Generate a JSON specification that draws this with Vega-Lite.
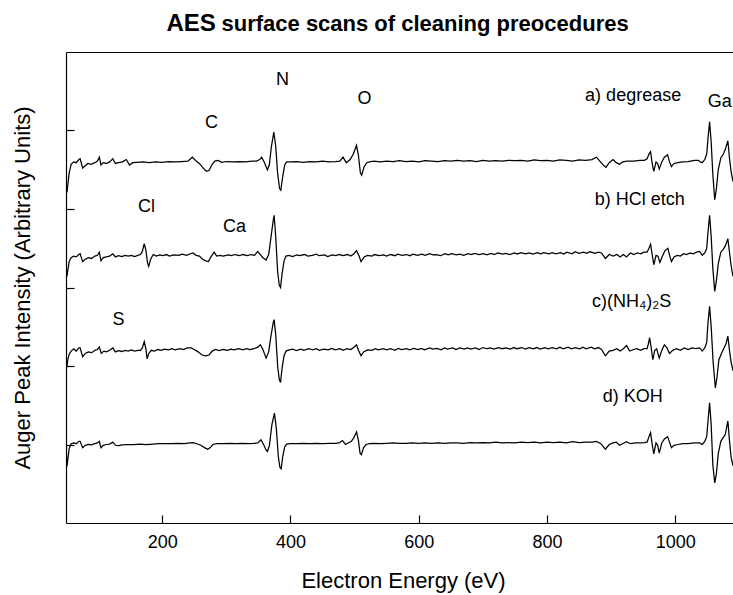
{
"$schema": "https://vega.github.io/schema/vega-lite/v6.json",
"width": 667, "height": 471,
"autosize": "none",
"padding": {"left": 66, "top": 52, "right": 0, "bottom": 72},
"background": "white",
"config": {"view": {"stroke": null}, "font": "Liberation Sans",
  "axis": {"grid": false, "domainColor": "black", "tickColor": "black", "labelColor": "black", "titleColor": "black", "domainWidth": 1.2, "tickWidth": 1.2}},
"datasets": {
"spectra": [
{"s":"a","eV":50,"y":43.5},{"s":"a","eV":51.5,"y":42.1},{"s":"a","eV":53,"y":43.2},{"s":"a","eV":55,"y":44.6},{"s":"a","eV":58,"y":45.7},{"s":"a","eV":62,"y":46.0},{"s":"a","eV":66,"y":45.9},{"s":"a","eV":70,"y":46.3},{"s":"a","eV":72,"y":46.4},{"s":"a","eV":76,"y":45.2},{"s":"a","eV":80,"y":45.5},{"s":"a","eV":84,"y":45.8},{"s":"a","eV":89,"y":45.7},{"s":"a","eV":95,"y":45.9},{"s":"a","eV":99,"y":46.1},{"s":"a","eV":102,"y":46.6},{"s":"a","eV":104.5,"y":45.6},{"s":"a","eV":108,"y":45.9},{"s":"a","eV":113,"y":45.8},{"s":"a","eV":118,"y":46.0},{"s":"a","eV":123,"y":46.4},{"s":"a","eV":127,"y":45.8},{"s":"a","eV":132,"y":45.9},{"s":"a","eV":138,"y":46.0},{"s":"a","eV":144,"y":46.3},{"s":"a","eV":149,"y":45.6},{"s":"a","eV":154,"y":45.9},{"s":"a","eV":160,"y":45.95},{"s":"a","eV":170,"y":46.0},{"s":"a","eV":180,"y":45.9},{"s":"a","eV":190,"y":46.0},{"s":"a","eV":200,"y":45.95},{"s":"a","eV":210,"y":46.05},{"s":"a","eV":220,"y":46.0},{"s":"a","eV":230,"y":46.05},{"s":"a","eV":240,"y":46.1},{"s":"a","eV":247,"y":46.6},{"s":"a","eV":253,"y":46.1},{"s":"a","eV":258,"y":45.8},{"s":"a","eV":264,"y":45.2},{"s":"a","eV":269,"y":44.8},{"s":"a","eV":273,"y":44.9},{"s":"a","eV":278,"y":45.7},{"s":"a","eV":282,"y":46.1},{"s":"a","eV":287,"y":46.2},{"s":"a","eV":293,"y":45.95},{"s":"a","eV":300,"y":46.05},{"s":"a","eV":310,"y":46.0},{"s":"a","eV":320,"y":46.05},{"s":"a","eV":330,"y":46.0},{"s":"a","eV":340,"y":46.1},{"s":"a","eV":347,"y":46.1},{"s":"a","eV":352,"y":46.3},{"s":"a","eV":355,"y":46.6},{"s":"a","eV":359,"y":46.0},{"s":"a","eV":364,"y":45.0},{"s":"a","eV":367,"y":45.6},{"s":"a","eV":370,"y":47.8},{"s":"a","eV":374,"y":49.8},{"s":"a","eV":377,"y":48.0},{"s":"a","eV":380,"y":44.5},{"s":"a","eV":383,"y":42.6},{"s":"a","eV":385,"y":42.4},{"s":"a","eV":388,"y":44.2},{"s":"a","eV":391,"y":45.6},{"s":"a","eV":394,"y":46.0},{"s":"a","eV":400,"y":46.0},{"s":"a","eV":410,"y":46.05},{"s":"a","eV":420,"y":45.95},{"s":"a","eV":430,"y":46.05},{"s":"a","eV":440,"y":46.0},{"s":"a","eV":450,"y":46.1},{"s":"a","eV":460,"y":46.0},{"s":"a","eV":470,"y":46.05},{"s":"a","eV":477,"y":46.1},{"s":"a","eV":482,"y":46.6},{"s":"a","eV":487,"y":45.9},{"s":"a","eV":493,"y":46.3},{"s":"a","eV":498,"y":47.0},{"s":"a","eV":503,"y":48.1},{"s":"a","eV":506,"y":46.8},{"s":"a","eV":509,"y":44.6},{"s":"a","eV":511,"y":44.3},{"s":"a","eV":515,"y":45.4},{"s":"a","eV":519,"y":45.9},{"s":"a","eV":523,"y":46.0},{"s":"a","eV":530,"y":46.1},{"s":"a","eV":540,"y":46.0},{"s":"a","eV":550,"y":46.1},{"s":"a","eV":560,"y":46.05},{"s":"a","eV":570,"y":46.15},{"s":"a","eV":580,"y":46.05},{"s":"a","eV":590,"y":46.1},{"s":"a","eV":600,"y":46.0},{"s":"a","eV":610,"y":46.15},{"s":"a","eV":620,"y":46.1},{"s":"a","eV":630,"y":46.05},{"s":"a","eV":640,"y":46.15},{"s":"a","eV":650,"y":46.1},{"s":"a","eV":660,"y":46.2},{"s":"a","eV":670,"y":46.1},{"s":"a","eV":680,"y":46.15},{"s":"a","eV":690,"y":46.05},{"s":"a","eV":700,"y":46.2},{"s":"a","eV":710,"y":46.1},{"s":"a","eV":720,"y":46.15},{"s":"a","eV":730,"y":46.1},{"s":"a","eV":740,"y":46.2},{"s":"a","eV":750,"y":46.15},{"s":"a","eV":760,"y":46.2},{"s":"a","eV":770,"y":46.1},{"s":"a","eV":780,"y":46.25},{"s":"a","eV":790,"y":46.15},{"s":"a","eV":800,"y":46.2},{"s":"a","eV":810,"y":46.1},{"s":"a","eV":820,"y":46.25},{"s":"a","eV":830,"y":46.2},{"s":"a","eV":840,"y":46.1},{"s":"a","eV":850,"y":46.25},{"s":"a","eV":860,"y":46.2},{"s":"a","eV":870,"y":46.3},{"s":"a","eV":877,"y":46.6},{"s":"a","eV":884,"y":45.95},{"s":"a","eV":889,"y":45.5},{"s":"a","eV":892,"y":45.3},{"s":"a","eV":897,"y":45.9},{"s":"a","eV":903,"y":46.3},{"s":"a","eV":908,"y":45.9},{"s":"a","eV":913,"y":45.7},{"s":"a","eV":918,"y":46.0},{"s":"a","eV":925,"y":46.1},{"s":"a","eV":935,"y":46.1},{"s":"a","eV":945,"y":46.2},{"s":"a","eV":952,"y":46.2},{"s":"a","eV":956,"y":46.4},{"s":"a","eV":959,"y":47.0},{"s":"a","eV":961.5,"y":47.3},{"s":"a","eV":964,"y":45.8},{"s":"a","eV":966.5,"y":44.8},{"s":"a","eV":970,"y":46.0},{"s":"a","eV":972.5,"y":45.8},{"s":"a","eV":975,"y":45.1},{"s":"a","eV":979,"y":46.0},{"s":"a","eV":983,"y":46.6},{"s":"a","eV":988,"y":46.9},{"s":"a","eV":991,"y":46.0},{"s":"a","eV":994,"y":45.4},{"s":"a","eV":998,"y":45.8},{"s":"a","eV":1004,"y":45.9},{"s":"a","eV":1012,"y":46.0},{"s":"a","eV":1020,"y":46.05},{"s":"a","eV":1030,"y":46.2},{"s":"a","eV":1036,"y":46.2},{"s":"a","eV":1039,"y":46.0},{"s":"a","eV":1042,"y":45.9},{"s":"a","eV":1046,"y":46.3},{"s":"a","eV":1049,"y":47.0},{"s":"a","eV":1051,"y":49.0},{"s":"a","eV":1053.5,"y":51.1},{"s":"a","eV":1056,"y":48.5},{"s":"a","eV":1058.5,"y":44.5},{"s":"a","eV":1061.5,"y":41.2},{"s":"a","eV":1064,"y":42.5},{"s":"a","eV":1067,"y":45.0},{"s":"a","eV":1071,"y":46.5},{"s":"a","eV":1075,"y":47.0},{"s":"a","eV":1078,"y":47.6},{"s":"a","eV":1082,"y":48.7},{"s":"a","eV":1084.5,"y":46.5},{"s":"a","eV":1087,"y":44.8},{"s":"a","eV":1090,"y":43.5},
{"s":"b","eV":50,"y":32.5},{"s":"b","eV":51.5,"y":31.4},{"s":"b","eV":53,"y":32.3},{"s":"b","eV":55,"y":33.3},{"s":"b","eV":58,"y":33.8},{"s":"b","eV":62,"y":34.0},{"s":"b","eV":66,"y":33.9},{"s":"b","eV":70,"y":34.2},{"s":"b","eV":72,"y":34.3},{"s":"b","eV":76,"y":33.3},{"s":"b","eV":80,"y":33.6},{"s":"b","eV":85,"y":33.8},{"s":"b","eV":90,"y":33.7},{"s":"b","eV":95,"y":34.0},{"s":"b","eV":99,"y":34.1},{"s":"b","eV":102,"y":34.5},{"s":"b","eV":104.5,"y":33.4},{"s":"b","eV":108,"y":33.8},{"s":"b","eV":113,"y":33.9},{"s":"b","eV":118,"y":34.0},{"s":"b","eV":123,"y":34.3},{"s":"b","eV":127,"y":33.9},{"s":"b","eV":132,"y":34.05},{"s":"b","eV":137,"y":33.95},{"s":"b","eV":142,"y":34.1},{"s":"b","eV":147,"y":34.0},{"s":"b","eV":152,"y":34.1},{"s":"b","eV":157,"y":33.95},{"s":"b","eV":162,"y":34.1},{"s":"b","eV":166,"y":34.2},{"s":"b","eV":169,"y":34.6},{"s":"b","eV":172,"y":35.6},{"s":"b","eV":174.5,"y":34.8},{"s":"b","eV":177,"y":33.2},{"s":"b","eV":179,"y":32.7},{"s":"b","eV":182,"y":33.6},{"s":"b","eV":186,"y":34.2},{"s":"b","eV":191,"y":34.0},{"s":"b","eV":196,"y":34.15},{"s":"b","eV":201,"y":34.05},{"s":"b","eV":207,"y":34.2},{"s":"b","eV":211,"y":34.0},{"s":"b","eV":218,"y":34.15},{"s":"b","eV":226,"y":34.1},{"s":"b","eV":231,"y":34.25},{"s":"b","eV":238,"y":34.1},{"s":"b","eV":244,"y":34.3},{"s":"b","eV":248,"y":34.4},{"s":"b","eV":253,"y":34.1},{"s":"b","eV":258,"y":34.0},{"s":"b","eV":263,"y":33.6},{"s":"b","eV":268,"y":33.4},{"s":"b","eV":272,"y":33.3},{"s":"b","eV":276,"y":33.9},{"s":"b","eV":281,"y":34.5},{"s":"b","eV":285,"y":34.0},{"s":"b","eV":290,"y":34.1},{"s":"b","eV":295,"y":34.0},{"s":"b","eV":303,"y":34.15},{"s":"b","eV":308,"y":34.05},{"s":"b","eV":313,"y":34.2},{"s":"b","eV":321,"y":34.05},{"s":"b","eV":325,"y":34.2},{"s":"b","eV":333,"y":34.05},{"s":"b","eV":338,"y":34.2},{"s":"b","eV":344,"y":34.1},{"s":"b","eV":349,"y":34.6},{"s":"b","eV":353,"y":34.2},{"s":"b","eV":357,"y":33.8},{"s":"b","eV":362,"y":33.5},{"s":"b","eV":366,"y":34.2},{"s":"b","eV":369,"y":36.0},{"s":"b","eV":373,"y":38.5},{"s":"b","eV":374.5,"y":39.2},{"s":"b","eV":377,"y":36.5},{"s":"b","eV":380,"y":32.0},{"s":"b","eV":382.5,"y":30.3},{"s":"b","eV":384.5,"y":30.0},{"s":"b","eV":387,"y":31.8},{"s":"b","eV":390,"y":33.4},{"s":"b","eV":393,"y":34.0},{"s":"b","eV":398,"y":34.1},{"s":"b","eV":403,"y":33.95},{"s":"b","eV":410,"y":34.15},{"s":"b","eV":414,"y":34.05},{"s":"b","eV":422,"y":34.2},{"s":"b","eV":427,"y":34.0},{"s":"b","eV":434,"y":34.1},{"s":"b","eV":440,"y":34.25},{"s":"b","eV":445,"y":34.05},{"s":"b","eV":453,"y":34.15},{"s":"b","eV":458,"y":33.95},{"s":"b","eV":465,"y":34.15},{"s":"b","eV":471,"y":34.05},{"s":"b","eV":476,"y":34.2},{"s":"b","eV":482,"y":34.05},{"s":"b","eV":489,"y":34.2},{"s":"b","eV":494,"y":34.0},{"s":"b","eV":499,"y":34.3},{"s":"b","eV":503,"y":34.7},{"s":"b","eV":507,"y":34.0},{"s":"b","eV":510,"y":33.3},{"s":"b","eV":515,"y":33.9},{"s":"b","eV":520,"y":34.1},{"s":"b","eV":527,"y":34.0},{"s":"b","eV":531,"y":34.2},{"s":"b","eV":538,"y":34.05},{"s":"b","eV":545,"y":34.15},{"s":"b","eV":550,"y":34.0},{"s":"b","eV":556,"y":34.2},{"s":"b","eV":563,"y":34.05},{"s":"b","eV":567,"y":34.25},{"s":"b","eV":574,"y":34.1},{"s":"b","eV":581,"y":34.2},{"s":"b","eV":586,"y":34.05},{"s":"b","eV":591,"y":34.25},{"s":"b","eV":598,"y":34.1},{"s":"b","eV":605,"y":34.25},{"s":"b","eV":610,"y":34.1},{"s":"b","eV":617,"y":34.3},{"s":"b","eV":622,"y":34.15},{"s":"b","eV":627,"y":34.2},{"s":"b","eV":634,"y":34.05},{"s":"b","eV":641,"y":34.3},{"s":"b","eV":646,"y":34.15},{"s":"b","eV":651,"y":34.3},{"s":"b","eV":659,"y":34.15},{"s":"b","eV":664,"y":34.25},{"s":"b","eV":670,"y":34.1},{"s":"b","eV":677,"y":34.3},{"s":"b","eV":682,"y":34.2},{"s":"b","eV":687,"y":34.35},{"s":"b","eV":694,"y":34.2},{"s":"b","eV":701,"y":34.3},{"s":"b","eV":706,"y":34.15},{"s":"b","eV":713,"y":34.35},{"s":"b","eV":718,"y":34.2},{"s":"b","eV":723,"y":34.4},{"s":"b","eV":731,"y":34.25},{"s":"b","eV":736,"y":34.35},{"s":"b","eV":742,"y":34.2},{"s":"b","eV":749,"y":34.4},{"s":"b","eV":754,"y":34.25},{"s":"b","eV":759,"y":34.45},{"s":"b","eV":767,"y":34.3},{"s":"b","eV":772,"y":34.4},{"s":"b","eV":778,"y":34.25},{"s":"b","eV":785,"y":34.45},{"s":"b","eV":790,"y":34.3},{"s":"b","eV":795,"y":34.45},{"s":"b","eV":803,"y":34.3},{"s":"b","eV":808,"y":34.45},{"s":"b","eV":814,"y":34.3},{"s":"b","eV":821,"y":34.45},{"s":"b","eV":826,"y":34.25},{"s":"b","eV":831,"y":34.5},{"s":"b","eV":839,"y":34.3},{"s":"b","eV":844,"y":34.55},{"s":"b","eV":850,"y":34.35},{"s":"b","eV":857,"y":34.5},{"s":"b","eV":862,"y":34.35},{"s":"b","eV":867,"y":34.55},{"s":"b","eV":875,"y":34.35},{"s":"b","eV":880,"y":34.5},{"s":"b","eV":885,"y":34.4},{"s":"b","eV":891,"y":33.7},{"s":"b","eV":897,"y":34.2},{"s":"b","eV":903,"y":34.0},{"s":"b","eV":909,"y":34.2},{"s":"b","eV":914,"y":33.9},{"s":"b","eV":919,"y":34.2},{"s":"b","eV":924,"y":33.9},{"s":"b","eV":930,"y":34.4},{"s":"b","eV":935,"y":34.2},{"s":"b","eV":941,"y":34.4},{"s":"b","eV":946,"y":34.3},{"s":"b","eV":951,"y":34.5},{"s":"b","eV":956,"y":34.5},{"s":"b","eV":959,"y":35.0},{"s":"b","eV":961.5,"y":35.5},{"s":"b","eV":964,"y":34.2},{"s":"b","eV":966.5,"y":32.9},{"s":"b","eV":970,"y":34.1},{"s":"b","eV":973,"y":34.0},{"s":"b","eV":976,"y":33.2},{"s":"b","eV":980,"y":34.0},{"s":"b","eV":984,"y":34.7},{"s":"b","eV":988.5,"y":35.0},{"s":"b","eV":991.5,"y":34.0},{"s":"b","eV":994,"y":33.3},{"s":"b","eV":998,"y":33.9},{"s":"b","eV":1003,"y":34.1},{"s":"b","eV":1008,"y":34.0},{"s":"b","eV":1013,"y":34.3},{"s":"b","eV":1018,"y":34.2},{"s":"b","eV":1023,"y":34.4},{"s":"b","eV":1028,"y":34.3},{"s":"b","eV":1033,"y":34.5},{"s":"b","eV":1038,"y":34.6},{"s":"b","eV":1042,"y":34.1},{"s":"b","eV":1046,"y":34.4},{"s":"b","eV":1049,"y":35.0},{"s":"b","eV":1051,"y":37.0},{"s":"b","eV":1053.5,"y":39.2},{"s":"b","eV":1056,"y":36.5},{"s":"b","eV":1058.5,"y":32.5},{"s":"b","eV":1061.5,"y":29.5},{"s":"b","eV":1064,"y":30.8},{"s":"b","eV":1067,"y":33.0},{"s":"b","eV":1071,"y":34.5},{"s":"b","eV":1075,"y":34.9},{"s":"b","eV":1078,"y":35.3},{"s":"b","eV":1082,"y":36.2},{"s":"b","eV":1084.5,"y":34.5},{"s":"b","eV":1087,"y":32.8},{"s":"b","eV":1090,"y":31.4},
{"s":"c","eV":50,"y":19.5},{"s":"c","eV":51.5,"y":20.0},{"s":"c","eV":53,"y":20.9},{"s":"c","eV":55,"y":21.5},{"s":"c","eV":58,"y":21.9},{"s":"c","eV":62,"y":22.2},{"s":"c","eV":66,"y":21.9},{"s":"c","eV":70,"y":22.3},{"s":"c","eV":72,"y":22.3},{"s":"c","eV":76,"y":21.2},{"s":"c","eV":80,"y":21.6},{"s":"c","eV":85,"y":21.8},{"s":"c","eV":90,"y":21.7},{"s":"c","eV":95,"y":22.0},{"s":"c","eV":99,"y":22.1},{"s":"c","eV":102,"y":22.4},{"s":"c","eV":105,"y":21.6},{"s":"c","eV":109,"y":21.9},{"s":"c","eV":113,"y":21.8},{"s":"c","eV":118,"y":22.0},{"s":"c","eV":123,"y":22.3},{"s":"c","eV":127,"y":21.8},{"s":"c","eV":132,"y":21.95},{"s":"c","eV":137,"y":21.85},{"s":"c","eV":142,"y":22.0},{"s":"c","eV":147,"y":21.9},{"s":"c","eV":152,"y":22.05},{"s":"c","eV":157,"y":21.9},{"s":"c","eV":162,"y":22.0},{"s":"c","eV":166,"y":22.0},{"s":"c","eV":169,"y":22.3},{"s":"c","eV":172,"y":23.1},{"s":"c","eV":174.5,"y":22.2},{"s":"c","eV":176.5,"y":20.9},{"s":"c","eV":179,"y":21.6},{"s":"c","eV":183,"y":22.0},{"s":"c","eV":188,"y":21.9},{"s":"c","eV":193,"y":22.1},{"s":"c","eV":199,"y":22.0},{"s":"c","eV":203,"y":22.15},{"s":"c","eV":210,"y":22.05},{"s":"c","eV":215,"y":22.2},{"s":"c","eV":220,"y":22.05},{"s":"c","eV":228,"y":22.2},{"s":"c","eV":233,"y":22.1},{"s":"c","eV":239,"y":22.3},{"s":"c","eV":245,"y":22.3},{"s":"c","eV":250,"y":22.1},{"s":"c","eV":256,"y":21.8},{"s":"c","eV":262,"y":21.4},{"s":"c","eV":268,"y":21.3},{"s":"c","eV":273,"y":21.4},{"s":"c","eV":278,"y":21.9},{"s":"c","eV":283,"y":22.1},{"s":"c","eV":289,"y":21.95},{"s":"c","eV":295,"y":22.1},{"s":"c","eV":302,"y":22.0},{"s":"c","eV":307,"y":22.15},{"s":"c","eV":312,"y":22.05},{"s":"c","eV":319,"y":22.2},{"s":"c","eV":326,"y":22.05},{"s":"c","eV":331,"y":22.2},{"s":"c","eV":337,"y":22.1},{"s":"c","eV":343,"y":22.2},{"s":"c","eV":349,"y":22.4},{"s":"c","eV":353,"y":22.7},{"s":"c","eV":357,"y":22.1},{"s":"c","eV":362,"y":21.0},{"s":"c","eV":366,"y":21.8},{"s":"c","eV":369,"y":23.5},{"s":"c","eV":373,"y":25.5},{"s":"c","eV":374.5,"y":25.9},{"s":"c","eV":377,"y":24.0},{"s":"c","eV":380,"y":20.0},{"s":"c","eV":382.5,"y":18.3},{"s":"c","eV":384.5,"y":17.9},{"s":"c","eV":387,"y":19.8},{"s":"c","eV":390,"y":21.3},{"s":"c","eV":393,"y":21.9},{"s":"c","eV":398,"y":22.05},{"s":"c","eV":404,"y":22.15},{"s":"c","eV":409,"y":21.95},{"s":"c","eV":416,"y":22.15},{"s":"c","eV":421,"y":22.0},{"s":"c","eV":428,"y":22.2},{"s":"c","eV":435,"y":22.05},{"s":"c","eV":440,"y":22.2},{"s":"c","eV":445,"y":22.0},{"s":"c","eV":452,"y":22.15},{"s":"c","eV":459,"y":22.05},{"s":"c","eV":464,"y":22.25},{"s":"c","eV":470,"y":22.05},{"s":"c","eV":477,"y":22.2},{"s":"c","eV":482,"y":22.0},{"s":"c","eV":488,"y":22.2},{"s":"c","eV":494,"y":22.1},{"s":"c","eV":499,"y":22.4},{"s":"c","eV":503,"y":22.7},{"s":"c","eV":506,"y":22.0},{"s":"c","eV":510,"y":21.3},{"s":"c","eV":514,"y":21.8},{"s":"c","eV":520,"y":22.05},{"s":"c","eV":527,"y":22.0},{"s":"c","eV":532,"y":22.2},{"s":"c","eV":537,"y":22.05},{"s":"c","eV":545,"y":22.2},{"s":"c","eV":550,"y":22.05},{"s":"c","eV":556,"y":22.2},{"s":"c","eV":563,"y":22.0},{"s":"c","eV":568,"y":22.25},{"s":"c","eV":573,"y":22.1},{"s":"c","eV":581,"y":22.2},{"s":"c","eV":586,"y":22.05},{"s":"c","eV":592,"y":22.25},{"s":"c","eV":599,"y":22.1},{"s":"c","eV":604,"y":22.25},{"s":"c","eV":609,"y":22.05},{"s":"c","eV":617,"y":22.3},{"s":"c","eV":622,"y":22.15},{"s":"c","eV":628,"y":22.25},{"s":"c","eV":635,"y":22.05},{"s":"c","eV":640,"y":22.3},{"s":"c","eV":645,"y":22.15},{"s":"c","eV":653,"y":22.3},{"s":"c","eV":658,"y":22.1},{"s":"c","eV":664,"y":22.3},{"s":"c","eV":671,"y":22.15},{"s":"c","eV":676,"y":22.3},{"s":"c","eV":681,"y":22.15},{"s":"c","eV":689,"y":22.3},{"s":"c","eV":694,"y":22.1},{"s":"c","eV":700,"y":22.35},{"s":"c","eV":707,"y":22.2},{"s":"c","eV":712,"y":22.3},{"s":"c","eV":717,"y":22.15},{"s":"c","eV":725,"y":22.35},{"s":"c","eV":730,"y":22.2},{"s":"c","eV":736,"y":22.3},{"s":"c","eV":743,"y":22.15},{"s":"c","eV":748,"y":22.35},{"s":"c","eV":753,"y":22.2},{"s":"c","eV":761,"y":22.35},{"s":"c","eV":766,"y":22.15},{"s":"c","eV":772,"y":22.35},{"s":"c","eV":779,"y":22.2},{"s":"c","eV":784,"y":22.35},{"s":"c","eV":789,"y":22.15},{"s":"c","eV":797,"y":22.35},{"s":"c","eV":802,"y":22.2},{"s":"c","eV":808,"y":22.35},{"s":"c","eV":815,"y":22.2},{"s":"c","eV":820,"y":22.4},{"s":"c","eV":825,"y":22.2},{"s":"c","eV":833,"y":22.4},{"s":"c","eV":838,"y":22.2},{"s":"c","eV":844,"y":22.35},{"s":"c","eV":851,"y":22.2},{"s":"c","eV":856,"y":22.4},{"s":"c","eV":861,"y":22.2},{"s":"c","eV":869,"y":22.4},{"s":"c","eV":874,"y":22.2},{"s":"c","eV":880,"y":22.35},{"s":"c","eV":885,"y":22.1},{"s":"c","eV":891,"y":21.3},{"s":"c","eV":897,"y":21.9},{"s":"c","eV":903,"y":22.0},{"s":"c","eV":909,"y":22.2},{"s":"c","eV":914,"y":21.9},{"s":"c","eV":919,"y":22.2},{"s":"c","eV":924,"y":22.6},{"s":"c","eV":929,"y":21.9},{"s":"c","eV":935,"y":22.1},{"s":"c","eV":940,"y":22.2},{"s":"c","eV":946,"y":22.0},{"s":"c","eV":951,"y":22.2},{"s":"c","eV":956,"y":22.2},{"s":"c","eV":958,"y":22.8},{"s":"c","eV":960,"y":23.6},{"s":"c","eV":962.5,"y":22.3},{"s":"c","eV":965,"y":20.8},{"s":"c","eV":968,"y":22.0},{"s":"c","eV":971,"y":22.2},{"s":"c","eV":975,"y":21.0},{"s":"c","eV":979,"y":22.0},{"s":"c","eV":983,"y":22.7},{"s":"c","eV":987,"y":22.3},{"s":"c","eV":991,"y":21.6},{"s":"c","eV":996,"y":22.0},{"s":"c","eV":1002,"y":22.2},{"s":"c","eV":1008,"y":22.0},{"s":"c","eV":1014,"y":22.3},{"s":"c","eV":1020,"y":22.1},{"s":"c","eV":1026,"y":22.3},{"s":"c","eV":1032,"y":22.2},{"s":"c","eV":1038,"y":22.3},{"s":"c","eV":1042,"y":21.9},{"s":"c","eV":1046,"y":22.3},{"s":"c","eV":1049,"y":23.0},{"s":"c","eV":1051,"y":25.5},{"s":"c","eV":1053.5,"y":27.6},{"s":"c","eV":1056,"y":25.0},{"s":"c","eV":1059,"y":20.5},{"s":"c","eV":1062.5,"y":17.2},{"s":"c","eV":1065,"y":18.5},{"s":"c","eV":1068,"y":20.8},{"s":"c","eV":1072,"y":21.6},{"s":"c","eV":1076,"y":22.3},{"s":"c","eV":1079,"y":22.8},{"s":"c","eV":1082,"y":23.8},{"s":"c","eV":1084.5,"y":22.0},{"s":"c","eV":1087,"y":20.5},{"s":"c","eV":1090,"y":19.4},
{"s":"d","eV":50,"y":10.0},{"s":"d","eV":51.5,"y":7.2},{"s":"d","eV":53,"y":8.2},{"s":"d","eV":55,"y":9.5},{"s":"d","eV":58,"y":10.1},{"s":"d","eV":62,"y":10.2},{"s":"d","eV":66,"y":10.1},{"s":"d","eV":70,"y":10.4},{"s":"d","eV":72,"y":10.4},{"s":"d","eV":76,"y":9.6},{"s":"d","eV":80,"y":9.9},{"s":"d","eV":85,"y":10.0},{"s":"d","eV":90,"y":9.95},{"s":"d","eV":95,"y":10.1},{"s":"d","eV":99,"y":10.2},{"s":"d","eV":102,"y":10.4},{"s":"d","eV":104.5,"y":9.6},{"s":"d","eV":108,"y":9.9},{"s":"d","eV":113,"y":10.0},{"s":"d","eV":118,"y":10.05},{"s":"d","eV":123,"y":10.3},{"s":"d","eV":127,"y":9.9},{"s":"d","eV":132,"y":9.85},{"s":"d","eV":138,"y":9.95},{"s":"d","eV":145,"y":10.0},{"s":"d","eV":155,"y":10.0},{"s":"d","eV":165,"y":10.05},{"s":"d","eV":175,"y":10.0},{"s":"d","eV":185,"y":10.05},{"s":"d","eV":195,"y":10.1},{"s":"d","eV":205,"y":10.1},{"s":"d","eV":215,"y":10.1},{"s":"d","eV":225,"y":10.15},{"s":"d","eV":235,"y":10.1},{"s":"d","eV":243,"y":10.2},{"s":"d","eV":248,"y":10.25},{"s":"d","eV":254,"y":10.1},{"s":"d","eV":260,"y":9.9},{"s":"d","eV":266,"y":9.6},{"s":"d","eV":271,"y":9.4},{"s":"d","eV":275,"y":9.6},{"s":"d","eV":279,"y":10.0},{"s":"d","eV":285,"y":10.1},{"s":"d","eV":295,"y":10.1},{"s":"d","eV":305,"y":10.15},{"s":"d","eV":315,"y":10.1},{"s":"d","eV":325,"y":10.15},{"s":"d","eV":335,"y":10.1},{"s":"d","eV":343,"y":10.15},{"s":"d","eV":349,"y":10.2},{"s":"d","eV":354,"y":10.6},{"s":"d","eV":358,"y":10.0},{"s":"d","eV":362,"y":9.3},{"s":"d","eV":364,"y":9.1},{"s":"d","eV":367,"y":9.8},{"s":"d","eV":371,"y":12.5},{"s":"d","eV":375,"y":14.0},{"s":"d","eV":378,"y":12.0},{"s":"d","eV":381,"y":8.5},{"s":"d","eV":383.5,"y":7.1},{"s":"d","eV":385.5,"y":6.9},{"s":"d","eV":388,"y":8.5},{"s":"d","eV":391,"y":9.7},{"s":"d","eV":394,"y":10.05},{"s":"d","eV":400,"y":10.1},{"s":"d","eV":410,"y":10.1},{"s":"d","eV":420,"y":10.15},{"s":"d","eV":430,"y":10.1},{"s":"d","eV":440,"y":10.15},{"s":"d","eV":450,"y":10.1},{"s":"d","eV":460,"y":10.15},{"s":"d","eV":470,"y":10.15},{"s":"d","eV":476,"y":10.2},{"s":"d","eV":481,"y":10.5},{"s":"d","eV":486,"y":10.0},{"s":"d","eV":490,"y":10.2},{"s":"d","eV":495,"y":10.4},{"s":"d","eV":499,"y":10.9},{"s":"d","eV":503,"y":11.6},{"s":"d","eV":506,"y":10.5},{"s":"d","eV":508.5,"y":8.9},{"s":"d","eV":510.5,"y":8.7},{"s":"d","eV":514,"y":9.6},{"s":"d","eV":518,"y":10.0},{"s":"d","eV":523,"y":10.1},{"s":"d","eV":530,"y":10.15},{"s":"d","eV":540,"y":10.1},{"s":"d","eV":550,"y":10.15},{"s":"d","eV":560,"y":10.2},{"s":"d","eV":570,"y":10.15},{"s":"d","eV":580,"y":10.15},{"s":"d","eV":590,"y":10.2},{"s":"d","eV":600,"y":10.15},{"s":"d","eV":610,"y":10.2},{"s":"d","eV":620,"y":10.15},{"s":"d","eV":630,"y":10.2},{"s":"d","eV":640,"y":10.15},{"s":"d","eV":650,"y":10.2},{"s":"d","eV":660,"y":10.2},{"s":"d","eV":670,"y":10.15},{"s":"d","eV":680,"y":10.25},{"s":"d","eV":690,"y":10.2},{"s":"d","eV":700,"y":10.25},{"s":"d","eV":710,"y":10.2},{"s":"d","eV":720,"y":10.3},{"s":"d","eV":730,"y":10.2},{"s":"d","eV":740,"y":10.25},{"s":"d","eV":750,"y":10.2},{"s":"d","eV":760,"y":10.3},{"s":"d","eV":770,"y":10.25},{"s":"d","eV":780,"y":10.3},{"s":"d","eV":790,"y":10.2},{"s":"d","eV":800,"y":10.3},{"s":"d","eV":810,"y":10.25},{"s":"d","eV":820,"y":10.3},{"s":"d","eV":830,"y":10.2},{"s":"d","eV":840,"y":10.35},{"s":"d","eV":850,"y":10.25},{"s":"d","eV":860,"y":10.3},{"s":"d","eV":870,"y":10.3},{"s":"d","eV":877,"y":10.4},{"s":"d","eV":884,"y":10.1},{"s":"d","eV":891,"y":9.4},{"s":"d","eV":897,"y":10.0},{"s":"d","eV":903,"y":10.2},{"s":"d","eV":908,"y":10.3},{"s":"d","eV":913,"y":9.9},{"s":"d","eV":918,"y":10.1},{"s":"d","eV":924,"y":10.35},{"s":"d","eV":930,"y":10.1},{"s":"d","eV":938,"y":10.2},{"s":"d","eV":946,"y":10.2},{"s":"d","eV":952,"y":10.25},{"s":"d","eV":956,"y":10.3},{"s":"d","eV":959,"y":11.0},{"s":"d","eV":961.5,"y":11.5},{"s":"d","eV":964,"y":10.0},{"s":"d","eV":966.5,"y":8.8},{"s":"d","eV":970,"y":10.2},{"s":"d","eV":972.5,"y":9.9},{"s":"d","eV":975,"y":8.9},{"s":"d","eV":979,"y":10.2},{"s":"d","eV":983,"y":10.7},{"s":"d","eV":988,"y":11.0},{"s":"d","eV":991,"y":10.3},{"s":"d","eV":994,"y":9.6},{"s":"d","eV":998,"y":9.9},{"s":"d","eV":1004,"y":10.0},{"s":"d","eV":1012,"y":10.1},{"s":"d","eV":1020,"y":10.1},{"s":"d","eV":1030,"y":10.2},{"s":"d","eV":1038,"y":10.2},{"s":"d","eV":1042,"y":10.0},{"s":"d","eV":1046,"y":10.4},{"s":"d","eV":1049,"y":11.0},{"s":"d","eV":1051,"y":13.0},{"s":"d","eV":1053.5,"y":15.3},{"s":"d","eV":1056,"y":12.5},{"s":"d","eV":1058.5,"y":7.5},{"s":"d","eV":1061.5,"y":5.1},{"s":"d","eV":1064,"y":6.2},{"s":"d","eV":1067,"y":8.8},{"s":"d","eV":1071,"y":10.4},{"s":"d","eV":1075,"y":10.9},{"s":"d","eV":1078,"y":11.3},{"s":"d","eV":1082,"y":13.0},{"s":"d","eV":1084.5,"y":10.5},{"s":"d","eV":1087,"y":8.4},{"s":"d","eV":1090,"y":7.3}
],
"labels": [
{"label":"N","eV":387.5,"y":56.4},
{"label":"C","eV":276.8,"y":51.0},
{"label":"O","eV":515.4,"y":54.0},
{"label":"a) degrease","eV":934.3,"y":54.4},
{"label":"Ga","eV":1069.5,"y":53.6},
{"label":"Cl","eV":175.4,"y":40.3},
{"label":"b) HCl etch","eV":944.5,"y":41.2},
{"label":"Ca","eV":312.6,"y":37.7},
{"label":"S","eV":131.7,"y":25.9},
{"label":"c)(NH₄)₂S","eV":932,"y":28.1},
{"label":"d) KOH","eV":933.5,"y":16.0}
]
},
"layer": [
{"data": {"name": "spectra"},
 "mark": {"type": "line", "color": "black", "strokeWidth": 1.25, "clip": true},
 "encoding": {
  "x": {"field": "eV", "type": "quantitative", "scale": {"domain": [50, 1090], "nice": false, "zero": false},
   "axis": {"orient": "bottom", "values": [200, 400, 600, 800, 1000], "format": "d", "tickSize": -8, "labelFontSize": 18, "labelPadding": 18, "labelFlush": false,
    "title": "Electron Energy (eV)", "titleFontSize": 22, "titleFontWeight": "normal", "titleX": 337, "titleY": 64, "titleBaseline": "alphabetic", "titleAlign": "center", "titleAnchor": null}},
  "y": {"field": "y", "type": "quantitative", "scale": {"domain": [0, 60], "nice": false, "zero": false},
   "axis": {"orient": "left", "values": [10, 20, 30, 40, 50], "tickSize": -8, "labels": false,
    "title": "Auger Peak Intensity (Arbitrary Units)", "titleFontSize": 22, "titleFontWeight": "normal", "titleX": -44, "titleY": 235.5, "titleAngle": -90, "titleBaseline": "middle", "titleAlign": "center", "titleAnchor": null}},
  "detail": {"field": "s", "type": "nominal"}
 }},
{"data": {"name": "labels"},
 "mark": {"type": "text", "fontSize": 18, "baseline": "middle", "align": "center", "color": "black", "font": "Liberation Sans"},
 "encoding": {
  "x": {"field": "eV", "type": "quantitative", "scale": {"domain": [50, 1090], "nice": false, "zero": false},
   "axis": {"orient": "top", "ticks": false, "labels": false, "domain": true,
    "title": "surface scans of cleaning preocedures", "titleFontSize": 22, "titleFontWeight": "bold", "titleX": 155, "titleY": -22, "titleAlign": "left", "titleBaseline": "alphabetic", "titleAngle": 0, "titleAnchor": null}},
  "y": {"field": "y", "type": "quantitative", "scale": {"domain": [0, 60], "nice": false, "zero": false},
   "axis": {"orient": "right", "ticks": false, "labels": false, "domain": false,
    "title": "AES", "titleFontSize": 24, "titleFontWeight": "bold", "titleAngle": 0, "titleX": -567, "titleY": -22, "titleAlign": "left", "titleBaseline": "alphabetic", "titleAnchor": null}},
  "text": {"field": "label", "type": "nominal"}
 }}
],
"resolve": {"axis": {"x": "independent", "y": "independent"}}
}
